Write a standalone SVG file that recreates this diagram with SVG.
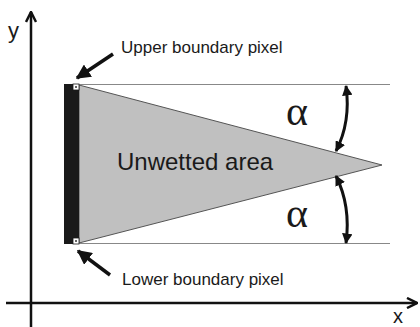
<svg xmlns="http://www.w3.org/2000/svg" width="420" height="327" viewBox="0 0 420 327">
<style>
.lbl{font-family:"Liberation Sans",Arial,sans-serif;fill:#1a1a1a}
.greek{font-family:"Liberation Serif","Times New Roman",serif;fill:#1a1a1a}
.axis{stroke:#111;stroke-width:2.5;fill:none}
.guide{stroke:#888;stroke-width:1.2}
.ptr{stroke:#111;stroke-width:3.5;fill:none}
.arc{stroke:#111;stroke-width:3;fill:none}
</style>
<defs>
<marker id="open" viewBox="0 0 10 10" refX="9" refY="5" markerWidth="5" markerHeight="5" orient="auto" markerUnits="strokeWidth">
<path d="M1,1 L9,5 L1,9" fill="none" stroke="#111" stroke-width="2"/>
</marker>
<marker id="solid" viewBox="0 0 10 10" refX="9" refY="5" markerWidth="4.2" markerHeight="4.2" orient="auto" markerUnits="strokeWidth">
<path d="M0,0 L10,5 L0,10 z" fill="#111"/>
</marker>
<marker id="tip" viewBox="0 0 10 10" refX="9" refY="5" markerWidth="3.5" markerHeight="3.5" orient="auto-start-reverse" markerUnits="strokeWidth">
<path d="M0,0 L10,5 L0,10 z" fill="#111"/>
</marker>
</defs>
<rect width="420" height="327" fill="#fff"/>
<g id="unwetted-area">
<polygon points="79,85 382,165 79,243" fill="#c0c0c0" stroke="#555" stroke-width="1"/>
<text class="lbl" x="117" y="170" font-size="24">Unwetted area</text>
</g>
<g id="guides">
<line class="guide" x1="79" y1="84.5" x2="390" y2="84.5"/>
<line class="guide" x1="79" y1="243.5" x2="390" y2="243.5"/>
</g>
<g id="wall">
<rect x="64" y="84" width="15" height="160" fill="#1a1a1a"/>
</g>
<g id="upper-pixel">
<rect x="73" y="84" width="6" height="6" fill="#fff" stroke="#1a1a1a" stroke-width="0.8"/>
<rect x="75.2" y="86.2" width="1.6" height="1.6" fill="#111"/>
</g>
<g id="lower-pixel">
<rect x="73" y="238" width="6" height="6" fill="#fff" stroke="#1a1a1a" stroke-width="0.8"/>
<rect x="75.2" y="240.2" width="1.6" height="1.6" fill="#111"/>
</g>
<g id="axes">
<line class="axis" x1="31" y1="327" x2="31" y2="12" marker-end="url(#open)"/>
<line class="axis" x1="6" y1="303" x2="417" y2="303" marker-end="url(#open)"/>
<text class="lbl" x="8" y="38" font-size="22">y</text>
<text class="lbl" x="393" y="323" font-size="20">x</text>
</g>
<g id="labels">
<text class="lbl" x="121" y="53" font-size="17">Upper boundary pixel</text>
<text class="lbl" x="122" y="285" font-size="17">Lower boundary pixel</text>
<text class="greek" x="286" y="125" font-size="42">α</text>
<text class="greek" x="286" y="227" font-size="42">α</text>
</g>
<g id="connectors">
<line class="ptr" x1="113" y1="54" x2="77" y2="78" marker-end="url(#solid)"/>
<line class="ptr" x1="110" y1="275" x2="78" y2="251" marker-end="url(#solid)"/>
<path class="arc" d="M346,86 Q351,122 336,151" marker-start="url(#tip)" marker-end="url(#tip)"/>
<path class="arc" d="M336,176 Q351,206 346,243" marker-start="url(#tip)" marker-end="url(#tip)"/>
</g>
</svg>
